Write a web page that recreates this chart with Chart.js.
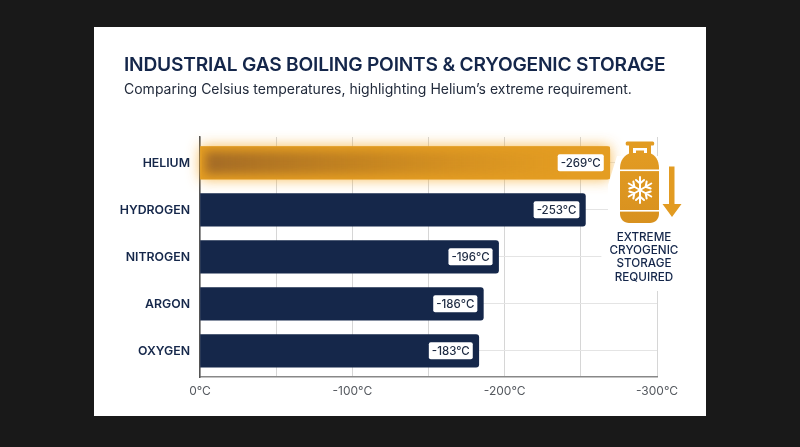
<!DOCTYPE html>
<html lang="en">
<head>
<meta charset="UTF-8">
<title>Industrial gas boiling points</title>
<script src="https://cdn.jsdelivr.net/npm/chart.js@4"></script>
<style>
	html, body { margin: 0; padding: 0; background: #191919; overflow: hidden; }
	#card { position: absolute; left: 94px; top: 27px; width: 612px; height: 389px; background: #fff; }
	#pizarra { position: absolute; left: 0; top: 0; }
	h1, h2, #nota { position: absolute; margin: 0; font-family: Inter, sans-serif; white-space: nowrap; }
	h1 { left: 124px; top: 51px; font-size: 19.2px; line-height: 26px; font-weight: 600; letter-spacing: -0.22px; color: #14264a; }
	h2 { left: 124px; top: 78.5px; font-size: 14px; line-height: 20px; font-weight: 400; color: #222b3c; }
	#icono { position: absolute; left: 0; top: 0; }
	#nota { left: 594px; top: 230.5px; width: 100px; text-align: center; font-size: 11.7px; line-height: 13.4px; font-weight: 500; color: #14264a; }
</style>
</head>
<body>
	<div id="card"></div>
	<canvas id="pizarra" width="800" height="447"></canvas>
	<h1>INDUSTRIAL GAS BOILING POINTS &amp; CRYOGENIC STORAGE</h1>
	<h2>Comparing Celsius temperatures, highlighting Helium’s extreme requirement.</h2>

	<svg id="icono" width="800" height="447">
		<path d="M617 156 H700 V291 H601 V258 L608 230 V185 Z" fill="#fff"/>
		<defs>
			<linearGradient id="tanque" x1="0" y1="0" x2="0" y2="1">
				<stop offset="0" stop-color="#e29b22"/>
				<stop offset="1" stop-color="#d8911f"/>
			</linearGradient>
		</defs>
		<rect x="625.7" y="141.5" width="28.5" height="4" rx="1.5" fill="#e29b22"/>
		<path fill-rule="evenodd" fill="#e29b22" d="M629 145 H651 V154 H629 Z M633 148 V153 H636 V150.5 H644 V153 H647 V148 Z"/>
		<path fill="url(#tanque)" d="M630 153 H650 C655 155 659 160 659 168 V214 C659 219 655 223 650 223 H629 C624 223 620 219 620 214 V168 C620 160 625 155 630 153 Z"/>
		<rect x="620" y="169.5" width="39" height="1.6" fill="#fff"/>
		<rect x="620" y="210" width="39" height="1.6" fill="#fff"/>
		<g stroke="#fff" stroke-width="2" stroke-linecap="round" fill="none" transform="translate(640 190)">
			<g id="rama"><path d="M0 0 V-13 M-4 -10 L0 -6.5 L4 -10"/></g>
			<use href="#rama" transform="rotate(60)"/>
			<use href="#rama" transform="rotate(120)"/>
			<use href="#rama" transform="rotate(180)"/>
			<use href="#rama" transform="rotate(240)"/>
			<use href="#rama" transform="rotate(300)"/>
		</g>
		<path fill="#e29b22" d="M669 166.5 H674.5 V204 H681.5 L672 217 L662.5 204 H669 Z"/>
	</svg>
	<div id="nota">EXTREME<br>CRYOGENIC<br>STORAGE<br>REQUIRED</div>

	<script>
		const gases = ['HELIUM', 'HYDROGEN', 'NITROGEN', 'ARGON', 'OXYGEN']
		const puntos = [-269, -253, -196, -186, -183]
		const etiquetas = ['-269°C', '-253°C', '-196°C', '-186°C', '-183°C']
		const marcas = [0, -100, -200, -300]

		const azul = '#15274a'
		const fuente = 'Inter, sans-serif'

		//Brillo naranja por detras de la barra de helio
		const brillo = {
			id: 'brillo',
			beforeDatasetsDraw(chart) {
				const b = chart.getDatasetMeta(0).data[0]
				const h = b.height
				const c = chart.ctx
				c.save()
				c.shadowColor = 'rgba(245,170,45,0.85)'
				c.shadowBlur = 14
				c.fillStyle = '#e8a020'
				c.fillRect(b.base, b.y - h / 2, b.x - b.base, h)
				c.restore()
			},
			afterDatasetsDraw(chart) {
				const b = chart.getDatasetMeta(0).data[0]
				const h = b.height
				const c = chart.ctx
				//zona oscura difuminada dentro de la barra
				c.save()
				c.beginPath()
				c.rect(b.base + 1, b.y - h / 2, b.x - b.base, h)
				c.clip()
				c.filter = 'blur(5px)'
				const g = c.createLinearGradient(b.base, 0, b.x, 0)
				g.addColorStop(0, 'rgba(135,85,40,0.7)')
				g.addColorStop(0.4, 'rgba(150,95,30,0.4)')
				g.addColorStop(0.9, 'rgba(170,110,30,0)')
				c.fillStyle = g
				c.fillRect(b.base + 5, b.y - h / 2 + 5, b.x - b.base - 10, h - 10)
				c.restore()
			}
		}

		//Recuadro blanco con el valor al final de cada barra
		const valores = {
			id: 'valores',
			afterDraw(chart) {
				const c = chart.ctx
				chart.getDatasetMeta(0).data.forEach((b, i) => {
					c.save()
					c.font = '500 11.5px ' + fuente
					const w = c.measureText(etiquetas[i]).width + 6
					const x = b.x - 6 - w
					c.fillStyle = '#fff'
					c.beginPath()
					c.roundRect(x, b.y - 8.5, w, 17, 2)
					c.fill()
					c.fillStyle = '#1d2a42'
					c.textAlign = 'center'
					c.textBaseline = 'middle'
					c.fillText(etiquetas[i], x + w / 2, b.y + 0.5)
					c.restore()
				})
			}
		}

		new Chart(document.getElementById('pizarra'), {
			type: 'bar',
			data: {
				datasets: [{
					data: puntos.map((v, i) => ({ x: v, y: i })),
					backgroundColor: (ctx) => ctx.dataIndex === 0 ? '#e49d22' : azul,
					barThickness: 32.5,
					borderRadius: 3
				}]
			},
			options: {
				indexAxis: 'y',
				responsive: false,
				animation: false,
				layout: { padding: { top: 137, right: 143, left: 0, bottom: 0 } },
				plugins: { legend: { display: false }, tooltip: { enabled: false } },
				scales: {
					x: {
						type: 'linear',
						reverse: true,
						min: -300,
						max: 0,
						afterFit: (s) => { s.height = 70 },
						ticks: {
							stepSize: 50,
							maxRotation: 0,
							autoSkip: false,
							padding: 7,
							color: '#55595f',
							font: { family: fuente, size: 12 },
							callback: (v) => marcas.includes(v) ? v + '°C' : ''
						},
						grid: { color: '#d6d6d6', lineWidth: 1, drawTicks: false },
						border: { color: '#888', width: 1.5 }
					},
					y: {
						type: 'linear',
						reverse: true,
						offset: false,
						bounds: 'data',
						min: -0.55,
						max: 4.556,
						afterFit: (s) => { s.width = 200 },
						afterBuildTicks: (s) => { s.ticks = gases.map((g, i) => ({ value: i })) },
						ticks: {
							padding: 10,
							color: azul,
							font: { family: fuente, size: 12.3, weight: '600' },
							callback: (v) => gases[v]
						},
						grid: { color: '#e4e4e4', lineWidth: 1, offset: false, drawTicks: false },
						border: { color: '#555', width: 1.5 }
					}
				}
			},
			plugins: [brillo, valores]
		})
	</script>
</body>
</html>
